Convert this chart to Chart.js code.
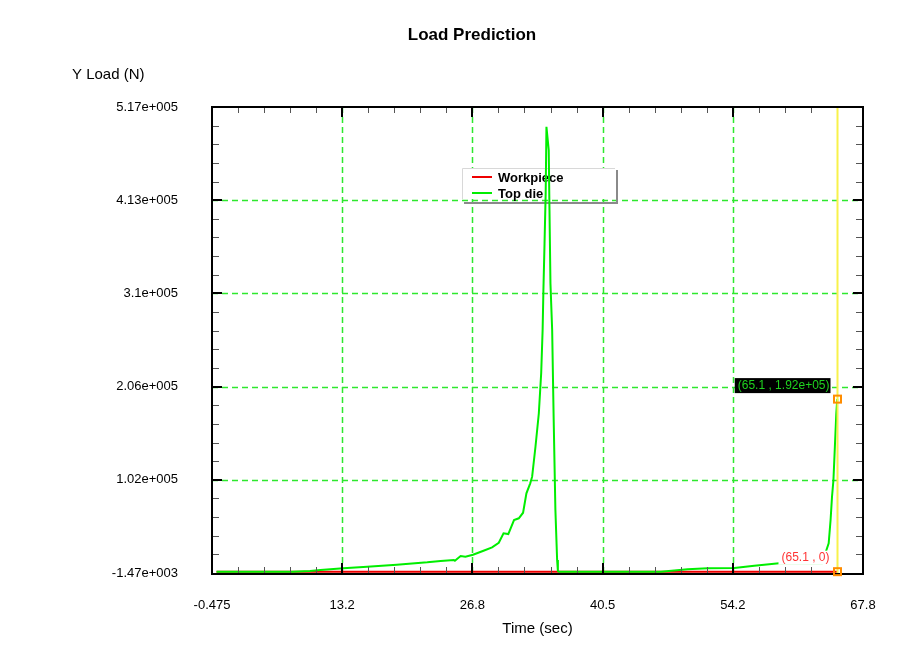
<!DOCTYPE html>
<html>
<head>
<meta charset="utf-8">
<title>Load Prediction</title>
<script src="https://cdn.jsdelivr.net/npm/chart.js@4"></script>
<style>
    html, body { margin: 0; padding: 0; background: #ffffff; }
    #wrap { width: 921px; height: 662px; }
</style>
</head>
<body>
<div id="wrap"><canvas id="loadChart" width="921" height="662"></canvas></div>
<script>
// Chart data
const topDieTime = [0, 8.0, 9.8, 10.9, 13.3, 15.8, 18.9, 22.1, 23.5, 24.9, 25.0, 25.6, 26.1, 26.9, 28.0, 28.9,
    29.6, 30.1, 30.6, 31.2, 31.7, 32.15, 32.5, 32.9, 33.1, 33.45, 33.8, 34.05, 34.2, 34.28, 34.4, 34.52, 34.6,
    34.84, 34.92, 35.02, 35.2, 35.36, 35.54, 35.72, 35.8, 35.9, 46.6, 49.4, 51.5, 54.3, 56.4, 59.0, 63.5,
    64.2, 64.4, 64.55, 64.7, 64.85, 65.0, 65.1];
const topDieLoad = [0, 0, 800, 1900, 3800, 5500, 7800, 10400, 11900, 13000, 12200, 17400, 16700, 18900, 23300, 27100,
    32200, 42700, 41900, 57500, 59400, 65600, 87200, 98300, 105700, 139000, 176000, 221000, 269000, 312000, 365000, 421000, 495000,
    469000, 402000, 321000, 269000, 169000, 68600, 13000, 800, 0, 0, 2700, 3800, 4100, 6600, 9300, 9300,
    31600, 57500, 83400, 102000, 139000, 176000, 192000];
const workpieceTime = [0, 65.1];
const workpieceLoad = [0, 0];

const xTickLabels = ['-0.475', '13.2', '26.8', '40.5', '54.2', '67.8'];
const yTickLabels = ['-1.47e+003', '1.02e+005', '2.06e+005', '3.1e+005', '4.13e+005', '5.17e+005'];
const xRange = [-0.475, 67.8];
const yRange = [-1470, 517000];
const cursorTime = 65.1;

const FONT = '"Liberation Sans", Arial, sans-serif';
const GRID_GREEN = '#2ee82e';

function toPoints(xs, ys) {
    return xs.map((x, i) => ({ x: x, y: ys[i] }));
}

// evenly spaced major ticks between the axis ends
function majorTicks(range, count) {
    const ticks = [];
    for (let i = 0; i < count; i++) {
        ticks.push({ value: range[0] + i * (range[1] - range[0]) / (count - 1) });
    }
    return ticks;
}

function sciLabel(v) {
    const [m, e] = v.toExponential(2).split('e');
    const exp = parseInt(e, 10);
    return m + 'e' + (exp < 0 ? '-' : '+') + String(Math.abs(exp)).padStart(2, '0');
}

// Grid, frame, inward ticks, legend box, cursor and titles
const overlayPlugin = {
    id: 'overlay',
    beforeDatasetsDraw(chart) {
        const ctx = chart.ctx;
        const { left, right, top, bottom } = chart.chartArea;
        const xs = chart.scales.x, ys = chart.scales.y;
        ctx.save();

        // dashed green grid on the inner major ticks
        ctx.strokeStyle = GRID_GREEN;
        ctx.lineWidth = 1.5;
        ctx.setLineDash([6, 4]);
        xs.ticks.forEach((t, i) => {
            if (i === 0 || i === xs.ticks.length - 1) return;
            const px = Math.round(xs.getPixelForValue(t.value)) + 0.5;
            ctx.beginPath();
            ctx.moveTo(px, top);
            ctx.lineTo(px, bottom);
            ctx.stroke();
        });
        ys.ticks.forEach((t, i) => {
            if (i === 0 || i === ys.ticks.length - 1) return;
            const py = Math.round(ys.getPixelForValue(t.value)) + 0.5;
            ctx.beginPath();
            ctx.moveTo(left, py);
            ctx.lineTo(right, py);
            ctx.stroke();
        });
        ctx.setLineDash([]);

        // legend box
        const bx = 462, by = 168, bw = 153, bh = 31;
        ctx.fillStyle = '#ffffff';
        ctx.fillRect(bx, by, bw, bh);
        ctx.strokeStyle = '#d8d8d8';
        ctx.lineWidth = 1;
        ctx.beginPath();
        ctx.moveTo(bx + 0.5, by + bh);
        ctx.lineTo(bx + 0.5, by + 0.5);
        ctx.lineTo(bx + bw, by + 0.5);
        ctx.stroke();
        ctx.strokeStyle = '#8a8a8a';
        ctx.lineWidth = 2;
        ctx.beginPath();
        ctx.moveTo(bx + 2, by + bh + 4);
        ctx.lineTo(bx + bw + 2, by + bh + 4);
        ctx.lineTo(bx + bw + 2, by + 2);
        ctx.stroke();

        ctx.font = 'bold 13px ' + FONT;
        ctx.textBaseline = 'middle';
        ctx.textAlign = 'left';
        chart.data.datasets.forEach((ds, i) => {
            const ly = by + 9 + i * 16;
            ctx.strokeStyle = ds.borderColor;
            ctx.lineWidth = 2;
            ctx.beginPath();
            ctx.moveTo(bx + 10, ly);
            ctx.lineTo(bx + 30, ly);
            ctx.stroke();
            ctx.fillStyle = '#000000';
            ctx.fillText(ds.label, bx + 36, ly + 1);
        });
        ctx.restore();
    },
    afterDatasetsDraw(chart) {
        const ctx = chart.ctx;
        const { left, right, top, bottom } = chart.chartArea;
        const xs = chart.scales.x, ys = chart.scales.y;
        ctx.save();

        // minor / major tick marks pointing into the plot
        const sub = 5;
        const nx = (xTickLabels.length - 1) * sub;
        for (let i = 1; i < nx; i++) {
            const px = Math.round(xs.getPixelForValue(xRange[0] + i * (xRange[1] - xRange[0]) / nx));
            const major = i % sub === 0;
            ctx.strokeStyle = major ? '#000000' : '#555555';
            ctx.lineWidth = major ? 2 : 1;
            const len = major ? 10 : 6;
            const off = major ? 0 : 0.5;
            ctx.beginPath();
            ctx.moveTo(px + off, bottom);
            ctx.lineTo(px + off, bottom - len);
            ctx.moveTo(px + off, top);
            ctx.lineTo(px + off, top + len);
            ctx.stroke();
        }
        const ny = (yTickLabels.length - 1) * sub;
        for (let i = 1; i < ny; i++) {
            const py = Math.round(ys.getPixelForValue(yRange[0] + i * (yRange[1] - yRange[0]) / ny));
            const major = i % sub === 0;
            ctx.strokeStyle = major ? '#000000' : '#555555';
            ctx.lineWidth = major ? 2 : 1;
            const len = major ? 10 : 7;
            const off = major ? 0 : 0.5;
            ctx.beginPath();
            ctx.moveTo(left, py + off);
            ctx.lineTo(left + len, py + off);
            ctx.moveTo(right, py + off);
            ctx.lineTo(right - len, py + off);
            ctx.stroke();
        }

        // cursor line
        const cx = Math.round(xs.getPixelForValue(cursorTime)) + 0.5;
        ctx.strokeStyle = '#f8f24a';
        ctx.lineWidth = 2;
        ctx.beginPath();
        ctx.moveTo(cx, top);
        ctx.lineTo(cx, bottom);
        ctx.stroke();

        // frame
        ctx.strokeStyle = '#000000';
        ctx.lineWidth = 2;
        ctx.strokeRect(left, top, right - left, bottom - top + 1);

        // cursor read-outs
        const topVal = topDieLoad[topDieLoad.length - 1];
        const wpVal = workpieceLoad[workpieceLoad.length - 1];
        const pyTop = ys.getPixelForValue(topVal);
        const pyWp = ys.getPixelForValue(wpVal);
        ctx.strokeStyle = '#ff8c00';
        ctx.lineWidth = 2;
        ctx.strokeRect(cx - 3.5, pyTop - 3.5, 7, 7);
        ctx.strokeRect(cx - 3.5, pyWp - 3.5, 7, 7);

        ctx.font = '12px ' + FONT;
        ctx.textBaseline = 'middle';
        ctx.textAlign = 'right';
        const t1 = '(' + cursorTime + ' , ' + sciLabel(topVal) + ')';
        const w1 = ctx.measureText(t1).width;
        ctx.fillStyle = '#000000';
        ctx.fillRect(cx - 8 - w1 - 3, pyTop - 21, w1 + 4, 15);
        ctx.fillStyle = '#1fd21f';
        ctx.fillText(t1, cx - 8, pyTop - 13);

        const t2 = '(' + cursorTime + ' , ' + wpVal + ')';
        const w2 = ctx.measureText(t2).width;
        ctx.fillStyle = '#ffffff';
        ctx.fillRect(cx - 8 - w2 - 3, pyWp - 21, w2 + 4, 14);
        ctx.fillStyle = '#ff3333';
        ctx.fillText(t2, cx - 8, pyWp - 14);
        ctx.restore();
    },
    afterDraw(chart) {
        const ctx = chart.ctx;
        ctx.save();
        ctx.fillStyle = '#000000';
        ctx.textBaseline = 'middle';
        ctx.textAlign = 'center';
        ctx.font = 'bold 17px ' + FONT;
        ctx.fillText('Load Prediction', 472, 35);
        ctx.textAlign = 'left';
        ctx.font = '15px ' + FONT;
        ctx.fillText('Y Load (N)', 72, 75);
        ctx.restore();
    }
};

function createChart() {
    const ctx = document.getElementById('loadChart');
    return new Chart(ctx, {
        type: 'line',
        data: {
            datasets: [{
                label: 'Workpiece',
                data: toPoints(workpieceTime, workpieceLoad),
                borderColor: '#ee0000',
                borderWidth: 2,
                pointRadius: 0,
                order: 1
            }, {
                label: 'Top die',
                data: toPoints(topDieTime, topDieLoad),
                borderColor: '#00ee00',
                borderWidth: 2,
                pointRadius: 0,
                order: 0
            }]
        },
        options: {
            responsive: false,
            animation: false,
            devicePixelRatio: 1,
            layout: { padding: { top: 107, right: 58, left: 0, bottom: 0 } },
            plugins: {
                legend: { display: false },
                tooltip: { enabled: false },
                title: { display: false }
            },
            scales: {
                x: {
                    type: 'linear',
                    min: xRange[0],
                    max: xRange[1],
                    afterBuildTicks: scale => { scale.ticks = majorTicks(xRange, xTickLabels.length); },
                    afterFit: scale => { scale.height = 89; },
                    grid: { display: false, drawTicks: false },
                    border: { display: false },
                    ticks: {
                        autoSkip: false,
                        maxRotation: 0,
                        padding: 25,
                        color: '#000000',
                        font: { family: FONT, size: 13 },
                        callback: (v, i) => xTickLabels[i]
                    },
                    title: {
                        display: true,
                        text: 'Time (sec)',
                        color: '#000000',
                        font: { family: FONT, size: 15 },
                        padding: { top: 0, bottom: 24 }
                    }
                },
                y: {
                    type: 'linear',
                    min: yRange[0],
                    max: yRange[1],
                    afterBuildTicks: scale => { scale.ticks = majorTicks(yRange, yTickLabels.length); },
                    afterFit: scale => { scale.width = 212; },
                    grid: { display: false, drawTicks: false },
                    border: { display: false },
                    ticks: {
                        autoSkip: false,
                        padding: 34,
                        color: '#000000',
                        font: { family: FONT, size: 13 },
                        callback: (v, i) => yTickLabels[i]
                    }
                }
            }
        },
        plugins: [overlayPlugin]
    });
}

document.addEventListener('DOMContentLoaded', () => {
    createChart();
});
</script>
</body>
</html>
